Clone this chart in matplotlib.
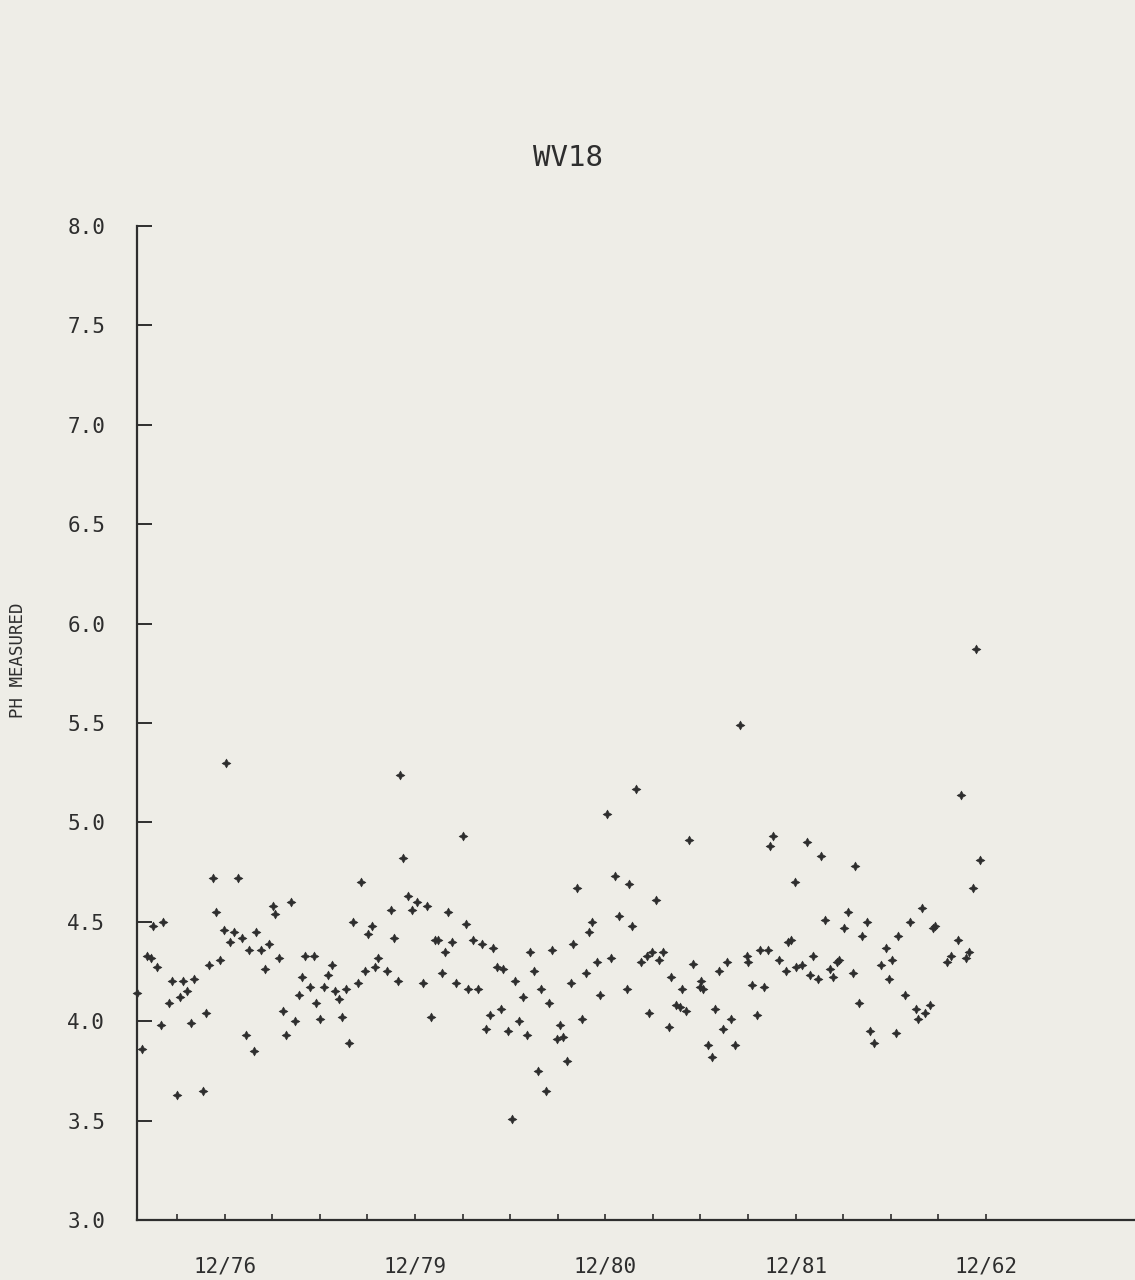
"""WV18: measured pH over time, redrawn from a scanned plotter chart."""
import matplotlib
matplotlib.use('Agg')
import matplotlib.pyplot as plt

# time in quarter-years counted from the first x tick; pH
QUARTER = [
    -0.83, -0.74, -0.64, -0.55, -0.50, -0.41, -0.34, -0.29, -0.17, -0.10,
    0.01, 0.06, 0.13, 0.22, 0.29, 0.36, 0.54, 0.61, 0.68, 0.75,
    0.82, 0.90, 0.99, 1.03, 1.11, 1.20, 1.28, 1.37, 1.46, 1.52,
    1.62, 1.67, 1.76, 1.85, 1.93, 2.01, 2.07, 2.15, 2.23, 2.30,
    2.39, 2.48, 2.57, 2.63, 2.69, 2.79, 2.88, 2.92, 3.00, 3.09,
    3.17, 3.25, 3.32, 3.40, 3.47, 3.55, 3.62, 3.69, 3.81, 3.86,
    3.96, 4.01, 4.10, 4.17, 4.23, 4.41, 4.49, 4.56, 4.64, 4.68,
    4.75, 4.85, 4.93, 5.04, 5.16, 5.25, 5.34, 5.42, 5.49, 5.56,
    5.63, 5.70, 5.77, 5.86, 6.01, 6.07, 6.12, 6.22, 6.33, 6.40,
    6.49, 6.58, 6.64, 6.73, 6.80, 6.86, 6.96, 7.03, 7.11, 7.19,
    7.28, 7.35, 7.42, 7.50, 7.58, 7.65, 7.75, 7.81, 7.89, 7.98,
    8.05, 8.12, 8.20, 8.27, 8.33, 8.41, 8.51, 8.59, 8.66, 8.73,
    8.82, 8.89, 9.03, 9.13, 9.21, 9.29, 9.45, 9.50, 9.57, 9.64,
    9.76, 9.87, 9.92, 9.98, 10.06, 10.13, 10.22, 10.33, 10.39, 10.48,
    10.57, 10.62, 10.69, 10.76, 10.85, 10.99, 11.02, 11.06, 11.16, 11.25,
    11.31, 11.38, 11.48, 11.55, 11.65, 11.72, 11.83, 11.97, 12.00, 12.09,
    12.18, 12.25, 12.33, 12.42, 12.46, 12.53, 12.64, 12.79, 12.84, 12.91,
    12.98, 13.00, 13.14, 13.23, 13.30, 13.37, 13.47, 13.54, 13.62, 13.72,
    13.78, 13.87, 13.91, 14.01, 14.09, 14.20, 14.24, 14.33, 14.40, 14.49,
    14.56, 14.64, 14.80, 14.89, 14.96, 15.02, 15.10, 15.15, 15.29, 15.40,
    15.53, 15.57, 15.65, 15.71, 15.82, 15.88, 15.92, 16.18, 16.27, 16.41,
    16.47, 16.58, 16.65, 16.73, 16.78, 16.87,
]
PH = [
    4.14, 3.86, 4.33, 4.32, 4.48, 4.27, 3.98, 4.50, 4.09, 4.20,
    3.63, 4.12, 4.20, 4.15, 3.99, 4.21, 3.65, 4.04, 4.28, 4.72,
    4.55, 4.31, 4.46, 5.30, 4.40, 4.45, 4.72, 4.42, 3.93, 4.36,
    3.85, 4.45, 4.36, 4.26, 4.39, 4.58, 4.54, 4.32, 4.05, 3.93,
    4.60, 4.00, 4.13, 4.22, 4.33, 4.17, 4.33, 4.09, 4.01, 4.17,
    4.23, 4.28, 4.15, 4.11, 4.02, 4.16, 3.89, 4.50, 4.19, 4.70,
    4.25, 4.44, 4.48, 4.27, 4.32, 4.25, 4.56, 4.42, 4.20, 5.24,
    4.82, 4.63, 4.56, 4.60, 4.19, 4.58, 4.02, 4.41, 4.41, 4.24,
    4.35, 4.55, 4.40, 4.19, 4.93, 4.49, 4.16, 4.41, 4.16, 4.39,
    3.96, 4.03, 4.37, 4.27, 4.06, 4.26, 3.95, 3.51, 4.20, 4.00,
    4.12, 3.93, 4.35, 4.25, 3.75, 4.16, 3.65, 4.09, 4.36, 3.91,
    3.98, 3.92, 3.80, 4.19, 4.39, 4.67, 4.01, 4.24, 4.45, 4.50,
    4.30, 4.13, 5.04, 4.32, 4.73, 4.53, 4.16, 4.69, 4.48, 5.17,
    4.30, 4.33, 4.04, 4.35, 4.61, 4.31, 4.35, 3.97, 4.22, 4.08,
    4.07, 4.16, 4.05, 4.91, 4.29, 4.17, 4.20, 4.16, 3.88, 3.82,
    4.06, 4.25, 3.96, 4.30, 4.01, 3.88, 5.49, 4.33, 4.30, 4.18,
    4.03, 4.36, 4.17, 4.36, 4.88, 4.93, 4.31, 4.25, 4.40, 4.41,
    4.70, 4.27, 4.28, 4.90, 4.23, 4.33, 4.21, 4.83, 4.51, 4.26,
    4.22, 4.30, 4.31, 4.47, 4.55, 4.24, 4.78, 4.09, 4.43, 4.50,
    3.95, 3.89, 4.28, 4.37, 4.21, 4.31, 3.94, 4.43, 4.13, 4.50,
    4.06, 4.01, 4.57, 4.04, 4.08, 4.47, 4.48, 4.30, 4.33, 4.41,
    5.14, 4.32, 4.35, 4.67, 5.87, 4.81,
]

X_TICKS = list(range(18))
X_LABELS = {1: '12/76', 5: '12/79', 9: '12/80', 13: '12/81', 17: '12/62'}
Y_TICKS = [3.0, 3.5, 4.0, 4.5, 5.0, 5.5, 6.0, 6.5, 7.0, 7.5, 8.0]

PAPER = '#eeede7'
INK = '#2e2e2e'
FONT = 'DejaVu Sans Mono'

plt.rcParams['font.family'] = FONT

fig = plt.figure(figsize=(11.35, 12.8), dpi=100, facecolor=PAPER)
ax = fig.add_axes([0.1207, 0.0469, 0.8793, 0.7766])
ax.set_facecolor(PAPER)

ax.plot(QUARTER, PH, linestyle='none', marker=(4, 1, 0), markersize=6.5,
        color=INK, markeredgewidth=0.4, clip_on=False)

ax.set_xlim(-0.84, 20.13)
ax.set_ylim(3.0, 8.0)

for side in ('top', 'right'):
    ax.spines[side].set_visible(False)
for side in ('left', 'bottom'):
    ax.spines[side].set_color(INK)
    ax.spines[side].set_linewidth(1.6)

ax.set_yticks(Y_TICKS)
ax.set_yticklabels([f'{v:.1f}' for v in Y_TICKS])
ax.set_xticks(X_TICKS)
ax.set_xticklabels([X_LABELS.get(t, '') for t in X_TICKS])

ax.tick_params(axis='y', direction='in', length=11, width=1.4, pad=23,
               labelsize=15, colors=INK)
ax.tick_params(axis='x', direction='in', length=4, width=1.2, pad=26,
               labelsize=15, colors=INK)

fig.text(18 / 1135, 1 - 660 / 1280, 'PH MEASURED', rotation=90,
         ha='center', va='center', fontsize=12.5, color=INK)
fig.text(568 / 1135, 1 - 158 / 1280, 'WV18', ha='center', va='center',
         fontsize=21, color=INK)

fig.savefig('out.png', dpi=100, facecolor=PAPER)
